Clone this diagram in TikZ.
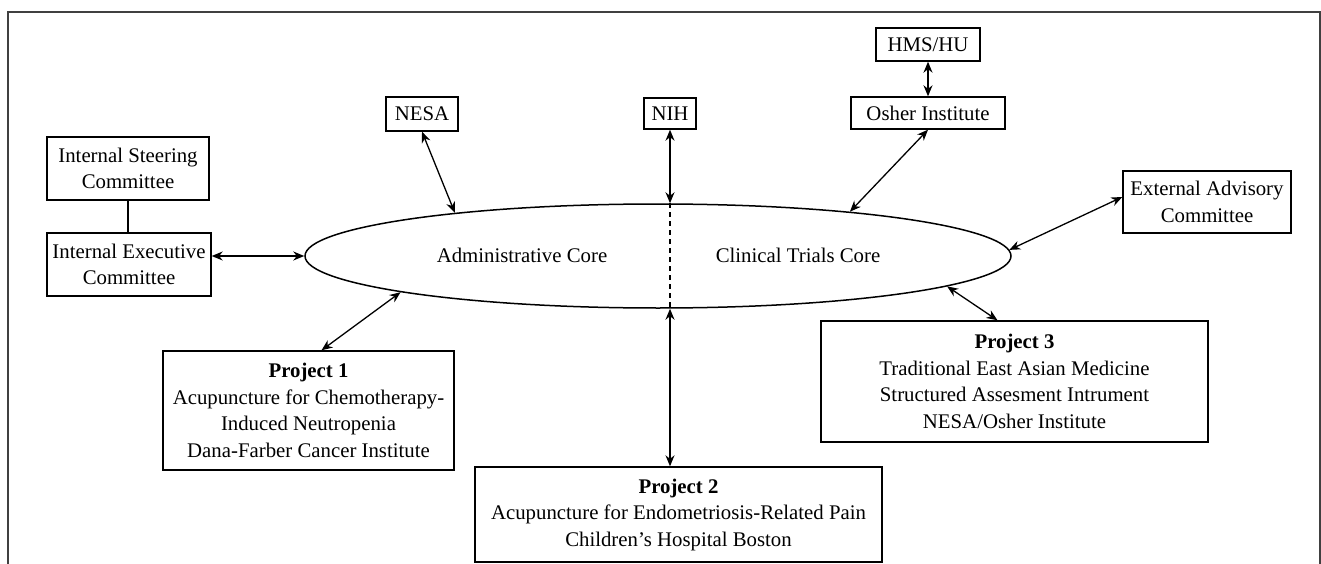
\documentclass[tikz,border=0pt]{standalone}
\usepackage{fontspec}
\setmainfont{Liberation Serif}
\usetikzlibrary{arrows.meta,shapes.geometric}
\begin{document}
\begin{tikzpicture}[x=1pt,y=-1pt,
  txt/.style={font=\fontsize{20.8}{26.5}\selectfont},
  box/.style={draw,line width=1.4pt,inner sep=0pt,align=center,txt},
  arr/.style={line width=1.3pt,{Stealth[length=11pt,width=9pt]}-{Stealth[length=11pt,width=9pt]}},
]
\useasboundingbox (0,0) rectangle (1321,564);
\clip (0,0) rectangle (1321,564);
\draw[line width=1.4pt,black!75] (8,600) -- (8,12) -- (1320,12) -- (1320,600);

% boxes
\node[box,minimum width=162pt,minimum height=63pt] (isc) at (128,168.5) {Internal Steering\\Committee};
\node[box,minimum width=164pt,minimum height=63pt] (iec) at (129,264.5) {Internal Executive\\Committee};
\node[box,minimum width=72pt,minimum height=34pt] (nesa) at (422,114) {NESA};
\node[box,minimum width=52pt,minimum height=31pt] (nih) at (670,113.5) {NIH};
\node[box,minimum width=154pt,minimum height=32pt] (osher) at (928,113) {Osher Institute};
\node[box,minimum width=104pt,minimum height=33pt] (hms) at (928,44.5) {HMS/HU};
\node[box,minimum width=168pt,minimum height=62pt] (eac) at (1207,202) {External Advisory\\Committee};
\node[box,minimum width=291pt,minimum height=119pt] (p1) at (308.5,410.5) {\textbf{Project 1}\\Acupuncture for Chemotherapy-\\Induced Neutropenia\\Dana-Farber Cancer Institute};
\node[box,minimum width=407pt,minimum height=95pt] (p2) at (678.5,514.5) {\textbf{Project 2}\\Acupuncture for Endometriosis-Related Pain\\Children’s Hospital Boston};
\node[box,minimum width=387pt,minimum height=121pt] (p3) at (1014.5,381.5) {\textbf{Project 3}\\Traditional East Asian Medicine\\Structured Assesment Intrument\\NESA/Osher Institute};

% central ellipse
\node[draw,ellipse,line width=1.5pt,minimum width=706pt,minimum height=104pt,inner sep=0pt] (core) at (658,256) {};
\node[txt] (adm) at (522,255) {Administrative Core};
\node[txt] (ctc) at (798,255) {Clinical Trials Core};
\draw[line width=1.2pt,dash pattern=on 5pt off 4pt] (nih.south |- core.north) -- (nih.south |- core.south);

% connectors
\draw[line width=1.3pt] (isc.south) -- (isc.south |- iec.north);
\draw[arr] (core.west -| iec.east) -- (core.west);
\draw[arr] (nesa.south) -- (core.168);
\draw[arr] (nih.south) -- (nih.south |- core.north);
\draw[arr] (osher.south) -- (core.13);
\draw[arr] (hms.south) -- (osher.north);
\draw[arr] ([yshift=5pt]eac.west) -- (core.1.5);
\draw[arr] ([xshift=13pt]p1.north) -- (core.188);
\draw[arr] (nih.south |- p2.north) -- (nih.south |- core.south);
\draw[arr] ([xshift=-17pt]p3.north) -- (core.354.5);
\end{tikzpicture}
\end{document}
